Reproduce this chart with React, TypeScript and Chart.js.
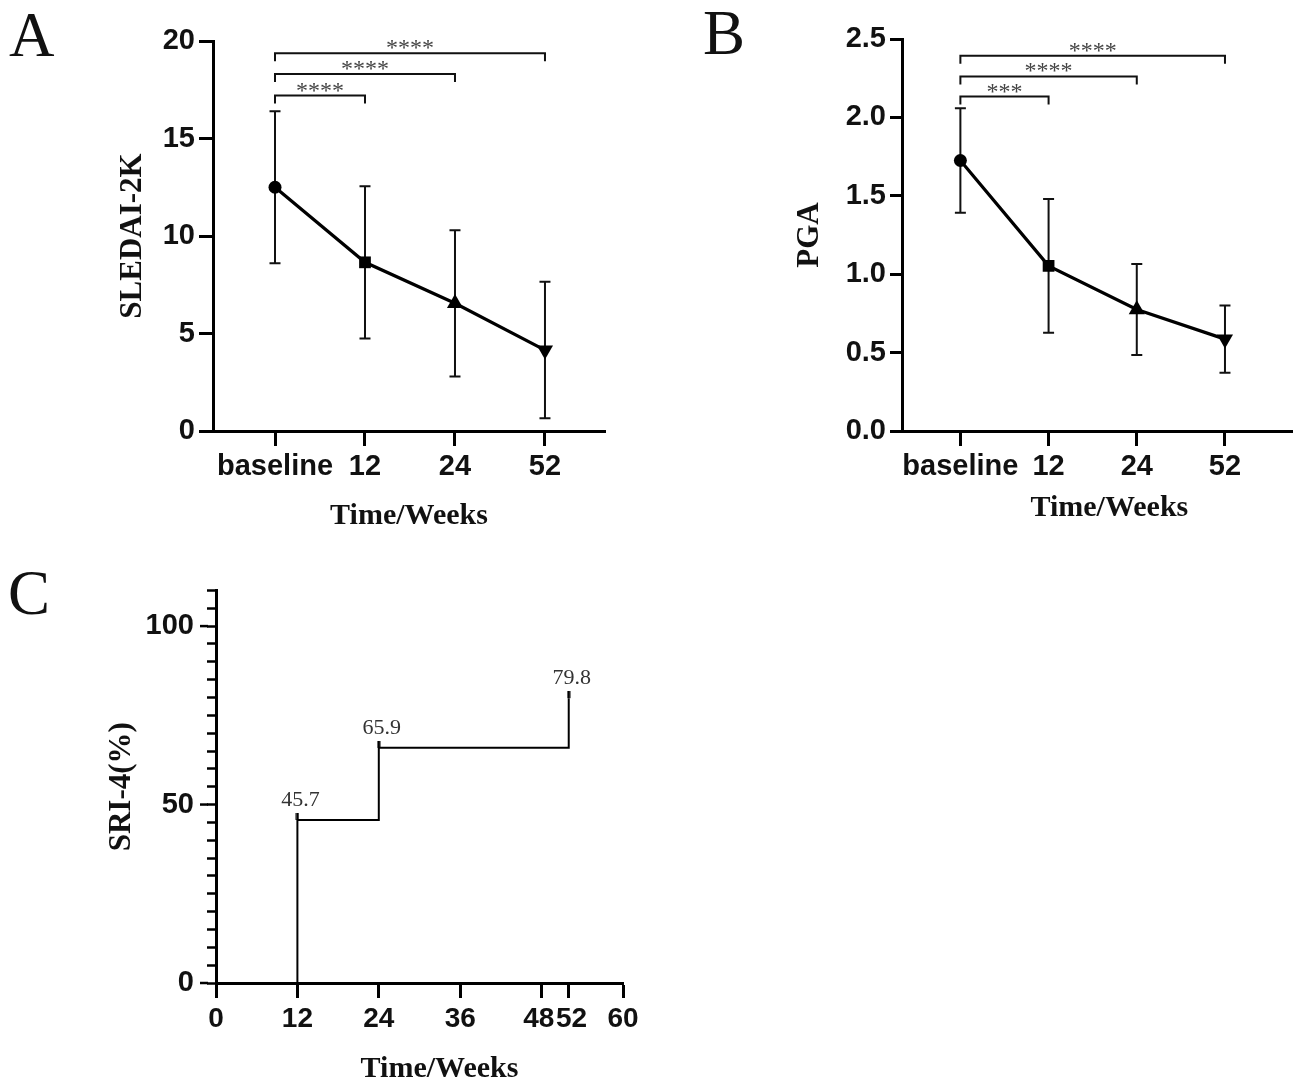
import React, { useEffect, useRef } from 'react';
import { Chart, registerables } from 'chart.js';

Chart.register(...registerables);

// ---------------- data ----------------
const categories = ['baseline', '12', '24', '52'];

const sledaiMean = [12.5, 8.65, 6.55, 4.15];
const sledaiSD = [3.9, 3.9, 3.75, 3.5];
const sledaiTicks = [0, 5, 10, 15, 20];
const sledaiSig = [
  { from: 0, to: 3, y: 19.37, label: '****' },
  { from: 0, to: 2, y: 18.31, label: '****' },
  { from: 0, to: 1, y: 17.2, label: '****' },
];

const pgaMean = [1.725, 1.053, 0.775, 0.586];
const pgaSD = [0.333, 0.427, 0.29, 0.214];
const pgaTicks = [0, 0.5, 1.0, 1.5, 2.0, 2.5];
const pgaSig = [
  { from: 0, to: 3, y: 2.393, label: '****' },
  { from: 0, to: 2, y: 2.261, label: '****' },
  { from: 0, to: 1, y: 2.133, label: '***' },
];

const sriWeeks = [12, 24, 52];
const sriPct = [45.7, 65.9, 79.8];
const sriXTicks = [0, 12, 24, 36, 48, 52, 60];
const sriYMajor = [0, 50, 100];

// ---------------- styles ----------------
const SANS = '"Liberation Sans", Arial, Helvetica, sans-serif';
const SERIF = '"Liberation Serif", "Times New Roman", Times, serif';
const INK = '#111';

const tickFont = { family: SANS, size: 29, weight: 'bold' as const };

type Sig = { from: number; to: number; y: number; label: string };

function errorBarPlugin(mean: number[], sd: number[]) {
  return {
    id: 'errorBars',
    beforeDatasetsDraw(chart: any) {
      const { ctx, scales } = chart;
      const x = scales.x, y = scales.y;
      ctx.save();
      ctx.strokeStyle = INK;
      ctx.lineWidth = 2;
      mean.forEach((m, i) => {
        const px = x.getPixelForValue(i);
        const top = y.getPixelForValue(m + sd[i]);
        const bot = y.getPixelForValue(m - sd[i]);
        ctx.beginPath();
        ctx.moveTo(px, top);
        ctx.lineTo(px, bot);
        ctx.moveTo(px - 5.5, top);
        ctx.lineTo(px + 5.5, top);
        ctx.moveTo(px - 5.5, bot);
        ctx.lineTo(px + 5.5, bot);
        ctx.stroke();
      });
      ctx.restore();
    },
  };
}

function bracketPlugin(sig: Sig[]) {
  return {
    id: 'brackets',
    afterDraw(chart: any) {
      const { ctx, scales } = chart;
      const x = scales.x, y = scales.y;
      ctx.save();
      sig.forEach((b) => {
        const x1 = x.getPixelForValue(b.from);
        const x2 = x.getPixelForValue(b.to);
        const py = y.getPixelForValue(b.y);
        ctx.strokeStyle = INK;
        ctx.lineWidth = 2;
        ctx.beginPath();
        ctx.moveTo(x1, py + 8);
        ctx.lineTo(x1, py);
        ctx.lineTo(x2, py);
        ctx.lineTo(x2, py + 8);
        ctx.stroke();
        ctx.fillStyle = '#444';
        ctx.font = `24px ${SERIF}`;
        ctx.textAlign = 'center';
        ctx.textBaseline = 'alphabetic';
        ctx.fillText(b.label, (x1 + x2) / 2, py + 2);
      });
      ctx.restore();
    },
  };
}

function titlePlugin(xText: string, xdx: number, xdy: number, yText: string, ydx: number) {
  return {
    id: 'axisTitles',
    afterDraw(chart: any) {
      const { ctx, chartArea: ca } = chart;
      ctx.save();
      ctx.font = `bold 30px ${SERIF}`;
      ctx.fillStyle = INK;
      ctx.textAlign = 'center';
      ctx.textBaseline = 'middle';
      ctx.fillText(xText, (ca.left + ca.right) / 2 + xdx, ca.bottom + xdy);
      ctx.translate(ca.left - ydx, (ca.top + ca.bottom) / 2);
      ctx.rotate(-Math.PI / 2);
      ctx.font = `bold 31px ${SERIF}`;
      ctx.fillText(yText, 0, 0);
      ctx.restore();
    },
  };
}

function meanPanelConfig(opts: {
  mean: number[];
  sd: number[];
  yTicks: number[];
  decimals: number;
  sig: Sig[];
  xMin: number;
  xMax: number;
  yWidth: number;
  xHeight: number;
  padTop: number;
  padRight: number;
  yTickLen: number;
  yTitle: string;
  yTitleDx: number;
  xTitleDy: number;
}) {
  const data = opts.mean.map((m, i) => ({ x: i, y: m }));
  return {
    type: 'line' as const,
    data: {
      datasets: [
        {
          data,
          borderColor: '#000',
          borderWidth: 3.2,
          backgroundColor: '#000',
          pointBackgroundColor: '#000',
          pointBorderColor: '#000',
          pointBorderWidth: 0,
          pointStyle: ['circle', 'rect', 'triangle', 'triangle'],
          pointRotation: [0, 0, 0, 180],
          pointRadius: [6.5, 8.3, 9.3, 9.3],
          tension: 0,
        },
      ],
    },
    options: {
      responsive: false,
      animation: false as const,
      devicePixelRatio: 1,
      layout: { padding: { top: opts.padTop, right: opts.padRight, left: 0, bottom: 0 } },
      plugins: { legend: { display: false }, tooltip: { enabled: false } },
      scales: {
        x: {
          type: 'linear' as const,
          min: opts.xMin,
          max: opts.xMax,
          afterBuildTicks: (s: any) => {
            s.ticks = categories.map((_, i) => ({ value: i }));
          },
          afterFit: (s: any) => {
            s.height = opts.xHeight;
          },
          ticks: {
            autoSkip: false,
            maxRotation: 0,
            minRotation: 0,
            padding: 4,
            color: INK,
            font: tickFont,
            callback: (v: any) => categories[Math.round(v)] ?? '',
          },
          grid: { display: true, drawOnChartArea: false, drawTicks: true, tickLength: 15, tickWidth: 3, tickColor: '#000' },
          border: { display: true, color: '#000', width: 3 },
        },
        y: {
          type: 'linear' as const,
          min: opts.yTicks[0],
          max: opts.yTicks[opts.yTicks.length - 1],
          afterBuildTicks: (s: any) => {
            s.ticks = opts.yTicks.map((v) => ({ value: v }));
          },
          afterFit: (s: any) => {
            s.width = opts.yWidth;
          },
          ticks: {
            autoSkip: false,
            padding: 4,
            color: INK,
            font: tickFont,
            callback: (v: any) => Number(v).toFixed(opts.decimals),
          },
          grid: { display: true, drawOnChartArea: false, drawTicks: true, tickLength: opts.yTickLen, tickWidth: 3, tickColor: '#000' },
          border: { display: true, color: '#000', width: 3 },
        },
      },
    },
    plugins: [
      errorBarPlugin(opts.mean, opts.sd),
      bracketPlugin(opts.sig),
      titlePlugin('Time/Weeks', 0, opts.xTitleDy, opts.yTitle, opts.yTitleDx),
    ],
  };
}

function sriConfig() {
  const marker = document.createElement('canvas');
  marker.width = 4;
  marker.height = 14;
  const mctx = marker.getContext('2d')!;
  mctx.fillStyle = '#000';
  mctx.fillRect(0.5, 0, 3, 7);

  const data = [{ x: sriWeeks[0], y: 0 }, ...sriWeeks.map((w, i) => ({ x: w, y: sriPct[i] }))];

  const valueLabels = {
    id: 'valueLabels',
    afterDatasetsDraw(chart: any) {
      const { ctx, scales } = chart;
      ctx.save();
      ctx.font = `22px ${SERIF}`;
      ctx.fillStyle = '#333';
      ctx.textAlign = 'center';
      ctx.textBaseline = 'alphabetic';
      sriWeeks.forEach((w, i) => {
        const px = scales.x.getPixelForValue(w);
        const py = scales.y.getPixelForValue(sriPct[i]);
        ctx.fillText(sriPct[i].toFixed(1), px + 3, py - 14);
      });
      ctx.restore();
    },
  };

  const majorTicks = {
    id: 'majorTicks',
    afterDraw(chart: any) {
      const { ctx, scales, chartArea: ca } = chart;
      ctx.save();
      ctx.strokeStyle = '#000';
      ctx.lineWidth = 2.5;
      sriYMajor.forEach((v) => {
        const py = scales.y.getPixelForValue(v);
        ctx.beginPath();
        ctx.moveTo(ca.left - 16, py);
        ctx.lineTo(ca.left - 8, py);
        ctx.stroke();
      });
      ctx.restore();
    },
  };

  // the two close labels (48, 52) are nudged apart with thin spaces, as in the original
  const xLabel = (v: number) => {
    const s = String(v);
    if (v === 48) return s + '\u2009';
    if (v === 52) return '\u2009' + s;
    return s;
  };

  return {
    type: 'line' as const,
    data: {
      datasets: [
        {
          data,
          stepped: 'before' as const,
          borderColor: '#000',
          borderWidth: 2,
          pointStyle: marker,
          pointRadius: [0, 4, 4, 4],
          tension: 0,
        },
      ],
    },
    options: {
      responsive: false,
      animation: false as const,
      devicePixelRatio: 1,
      layout: { padding: { top: 29, right: 37, left: 0, bottom: 0 } },
      plugins: { legend: { display: false }, tooltip: { enabled: false } },
      scales: {
        x: {
          type: 'linear' as const,
          min: 0,
          max: 60,
          afterBuildTicks: (s: any) => {
            s.ticks = sriXTicks.map((v) => ({ value: v }));
          },
          afterFit: (s: any) => {
            s.height = 100;
          },
          ticks: {
            autoSkip: false,
            maxRotation: 0,
            minRotation: 0,
            padding: 4,
            color: INK,
            font: { ...tickFont, size: 28 },
            callback: (v: any) => xLabel(Number(v)),
          },
          grid: { display: true, drawOnChartArea: false, drawTicks: true, tickLength: 15, tickWidth: 3, tickColor: '#000' },
          border: { display: true, color: '#000', width: 3 },
        },
        y: {
          type: 'linear' as const,
          min: 0,
          max: 110,
          ticks: {
            stepSize: 5,
            autoSkip: false,
            padding: 13,
            color: INK,
            font: tickFont,
            callback: (v: any) => (sriYMajor.includes(Number(v)) ? String(v) : ''),
          },
          afterFit: (s: any) => {
            s.width = 216;
          },
          grid: { display: true, drawOnChartArea: false, drawTicks: true, tickLength: 9, tickWidth: 2.5, tickColor: '#000' },
          border: { display: true, color: '#000', width: 3 },
        },
      },
    },
    plugins: [valueLabels, majorTicks, titlePlugin('Time/Weeks', 20, 86, 'SRI-4(%)', 94)],
  };
}

function Panel(props: { left: number; top: number; width: number; height: number; make: () => any }) {
  const ref = useRef<HTMLCanvasElement | null>(null);
  useEffect(() => {
    if (!ref.current) return;
    const chart = new Chart(ref.current, props.make());
    return () => chart.destroy();
  }, []);
  return (
    <div style={{ position: 'absolute', left: props.left, top: props.top, width: props.width, height: props.height }}>
      <canvas ref={ref} width={props.width} height={props.height} style={{ display: 'block' }} />
    </div>
  );
}

const letterStyle = {
  position: 'absolute' as const,
  fontFamily: SERIF,
  fontSize: 63,
  lineHeight: '63px',
  color: '#111',
  margin: 0,
};

export default function App() {
  return (
    <div
      style={{
        position: 'absolute',
        left: 0,
        top: 0,
        width: 1293,
        height: 1083,
        overflow: 'hidden',
        background: '#fff',
      }}
    >
      <div style={{ ...letterStyle, left: 9, top: 4 }}>A</div>
      <div style={{ ...letterStyle, left: 703, top: 2 }}>B</div>
      <div style={{ ...letterStyle, left: 8, top: 562 }}>C</div>
      <Panel
        left={0}
        top={0}
        width={640}
        height={540}
        make={() =>
          meanPanelConfig({
            mean: sledaiMean,
            sd: sledaiSD,
            yTicks: sledaiTicks,
            decimals: 0,
            sig: sledaiSig,
            xMin: -0.689,
            xMax: 3.667,
            yWidth: 213,
            xHeight: 109,
            padTop: 41,
            padRight: 35,
            yTickLen: 14,
            yTitle: 'SLEDAI-2K',
            yTitleDx: 80,
            xTitleDy: 85,
          })
        }
      />
      <Panel
        left={650}
        top={0}
        width={676}
        height={540}
        make={() =>
          meanPanelConfig({
            mean: pgaMean,
            sd: pgaSD,
            yTicks: pgaTicks,
            decimals: 1,
            sig: pgaSig,
            xMin: -0.662,
            xMax: 4.04,
            yWidth: 252,
            xHeight: 109,
            padTop: 39,
            padRight: 0,
            yTickLen: 12,
            yTitle: 'PGA',
            yTitleDx: 92,
            xTitleDy: 77,
          })
        }
      />
      <Panel left={0} top={560} width={660} height={523} make={sriConfig} />
    </div>
  );
}
